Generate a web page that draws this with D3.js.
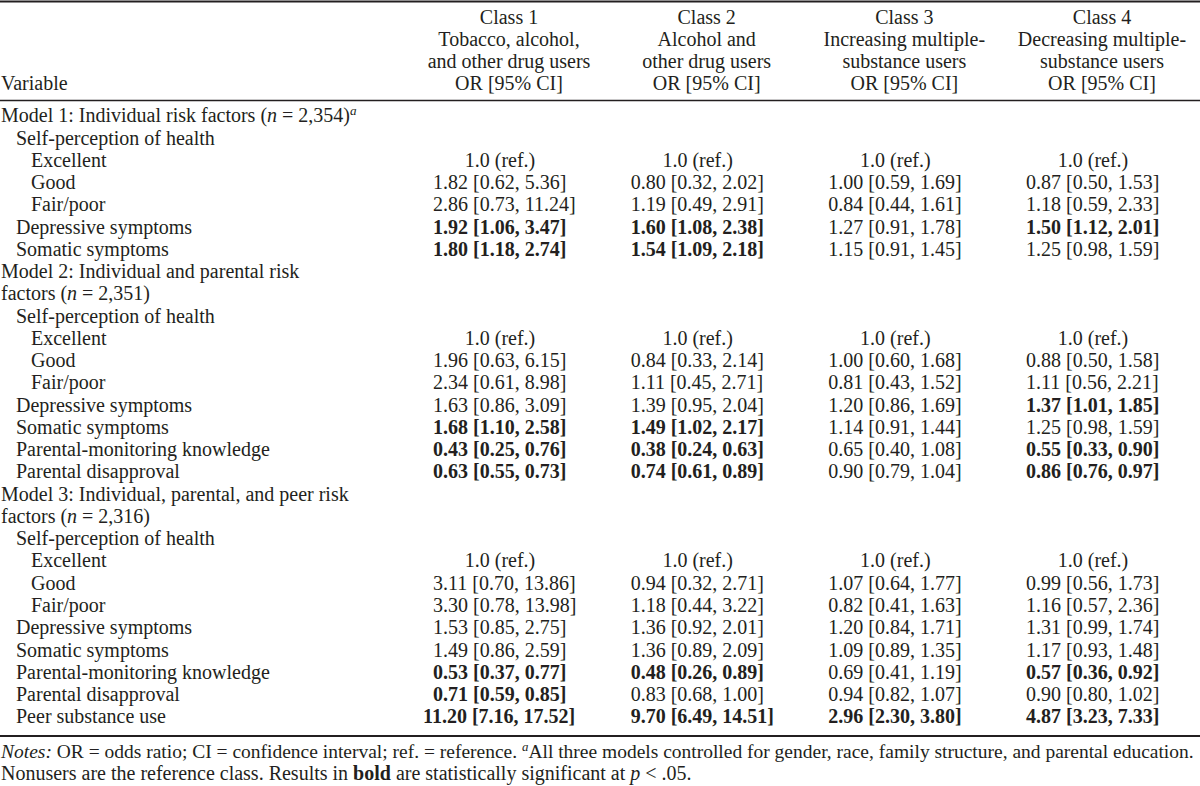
<!DOCTYPE html>
<html>
<head>
<meta charset="utf-8">
<script src="https://cdn.jsdelivr.net/npm/d3@7"></script>
<style>
  html, body { margin: 0; padding: 0; background: #fff; }
  svg { display: block; }
  text { font-family: "Liberation Serif", "Times New Roman", serif; fill: #231f20; }
</style>
</head>
<body>
<svg id="chart" width="1200" height="786"></svg>
<script>
// ---------- DATA ----------
const classNames = ["Class 1", "Class 2", "Class 3", "Class 4"];
const classDesc = [
  ["Tobacco, alcohol,", "and other drug users"],
  ["Alcohol and", "other drug users"],
  ["Increasing multiple-", "substance users"],
  ["Decreasing multiple-", "substance users"]
];
const statLabel = "OR [95% CI]";
const varHeader = "Variable";

// row labels: [text parts, indent]; parts: [string, style]
const rowLabels = [
  [[["Model 1: Individual risk factors (", ""], ["n", "i"], [" = 2,354)", ""], ["a", "sup"]], 0],
  [[["Self-perception of health", ""]], 1],
  [[["Excellent", ""]], 2],
  [[["Good", ""]], 2],
  [[["Fair/poor", ""]], 2],
  [[["Depressive symptoms", ""]], 1],
  [[["Somatic symptoms", ""]], 1],
  [[["Model 2: Individual and parental risk", ""]], 0],
  [[["factors (", ""], ["n", "i"], [" = 2,351)", ""]], 0],
  [[["Self-perception of health", ""]], 1],
  [[["Excellent", ""]], 2],
  [[["Good", ""]], 2],
  [[["Fair/poor", ""]], 2],
  [[["Depressive symptoms", ""]], 1],
  [[["Somatic symptoms", ""]], 1],
  [[["Parental-monitoring knowledge", ""]], 1],
  [[["Parental disapproval", ""]], 1],
  [[["Model 3: Individual, parental, and peer risk", ""]], 0],
  [[["factors (", ""], ["n", "i"], [" = 2,316)", ""]], 0],
  [[["Self-perception of health", ""]], 1],
  [[["Excellent", ""]], 2],
  [[["Good", ""]], 2],
  [[["Fair/poor", ""]], 2],
  [[["Depressive symptoms", ""]], 1],
  [[["Somatic symptoms", ""]], 1],
  [[["Parental-monitoring knowledge", ""]], 1],
  [[["Parental disapproval", ""]], 1],
  [[["Peer substance use", ""]], 1]
];

// values per class, indexed by row; null = no value, "ref" = reference
// [OR, lower, upper, significant]
const class1 = [null, null, "ref",
  [1.82, 0.62, 5.36, 0], [2.86, 0.73, 11.24, 0], [1.92, 1.06, 3.47, 1], [1.80, 1.18, 2.74, 1],
  null, null, null, "ref",
  [1.96, 0.63, 6.15, 0], [2.34, 0.61, 8.98, 0], [1.63, 0.86, 3.09, 0], [1.68, 1.10, 2.58, 1],
  [0.43, 0.25, 0.76, 1], [0.63, 0.55, 0.73, 1],
  null, null, null, "ref",
  [3.11, 0.70, 13.86, 0], [3.30, 0.78, 13.98, 0], [1.53, 0.85, 2.75, 0], [1.49, 0.86, 2.59, 0],
  [0.53, 0.37, 0.77, 1], [0.71, 0.59, 0.85, 1], [11.20, 7.16, 17.52, 1]];
const class2 = [null, null, "ref",
  [0.80, 0.32, 2.02, 0], [1.19, 0.49, 2.91, 0], [1.60, 1.08, 2.38, 1], [1.54, 1.09, 2.18, 1],
  null, null, null, "ref",
  [0.84, 0.33, 2.14, 0], [1.11, 0.45, 2.71, 0], [1.39, 0.95, 2.04, 0], [1.49, 1.02, 2.17, 1],
  [0.38, 0.24, 0.63, 1], [0.74, 0.61, 0.89, 1],
  null, null, null, "ref",
  [0.94, 0.32, 2.71, 0], [1.18, 0.44, 3.22, 0], [1.36, 0.92, 2.01, 0], [1.36, 0.89, 2.09, 0],
  [0.48, 0.26, 0.89, 1], [0.83, 0.68, 1.00, 0], [9.70, 6.49, 14.51, 1]];
const class3 = [null, null, "ref",
  [1.00, 0.59, 1.69, 0], [0.84, 0.44, 1.61, 0], [1.27, 0.91, 1.78, 0], [1.15, 0.91, 1.45, 0],
  null, null, null, "ref",
  [1.00, 0.60, 1.68, 0], [0.81, 0.43, 1.52, 0], [1.20, 0.86, 1.69, 0], [1.14, 0.91, 1.44, 0],
  [0.65, 0.40, 1.08, 0], [0.90, 0.79, 1.04, 0],
  null, null, null, "ref",
  [1.07, 0.64, 1.77, 0], [0.82, 0.41, 1.63, 0], [1.20, 0.84, 1.71, 0], [1.09, 0.89, 1.35, 0],
  [0.69, 0.41, 1.19, 0], [0.94, 0.82, 1.07, 0], [2.96, 2.30, 3.80, 1]];
const class4 = [null, null, "ref",
  [0.87, 0.50, 1.53, 0], [1.18, 0.59, 2.33, 0], [1.50, 1.12, 2.01, 1], [1.25, 0.98, 1.59, 0],
  null, null, null, "ref",
  [0.88, 0.50, 1.58, 0], [1.11, 0.56, 2.21, 0], [1.37, 1.01, 1.85, 1], [1.25, 0.98, 1.59, 0],
  [0.55, 0.33, 0.90, 1], [0.86, 0.76, 0.97, 1],
  null, null, null, "ref",
  [0.99, 0.56, 1.73, 0], [1.16, 0.57, 2.36, 0], [1.31, 0.99, 1.74, 0], [1.17, 0.93, 1.48, 0],
  [0.57, 0.36, 0.92, 1], [0.90, 0.80, 1.02, 0], [4.87, 3.23, 7.33, 1]];
const classValues = [class1, class2, class3, class4];

const noteLine1 = [["Notes:", "i"], [" OR = odds ratio; CI = confidence interval; ref. = reference. ", ""], ["a", "sup"],
  ["All three models controlled for gender, race, family structure, and parental education.", ""]];
const noteLine2 = [["Nonusers are the reference class. Results in ", ""], ["bold", "b"],
  [" are statistically significant at ", ""], ["p", "i"], [" < .05.", ""]];

// ---------- LAYOUT ----------
const W = 1200, H = 786;
const FS = 20;
const svg = d3.select("#chart");

const y = d3.scaleLinear().domain([0, rowLabels.length - 1]).range([122.3, 723.3]);
const colLeft = d3.scaleLinear().domain([0, 3]).range([433, 1026]);
const headerCenter = i => colLeft(i) + 76;
const refCenter = i => colLeft(i) + 67;
const indentX = d3.scaleOrdinal().domain([0, 1, 2]).range([1, 16, 31]);
const fmt = d3.format(".2f");

function rich(sel, parts, fs) {
  let pendingDy = 0;
  parts.forEach(([t, s]) => {
    const ts = sel.append("tspan").text(t);
    if (pendingDy) { ts.attr("dy", pendingDy); pendingDy = 0; }
    if (s === "i") ts.attr("font-style", "italic");
    if (s === "b") ts.attr("font-weight", "bold");
    if (s === "sup") {
      ts.attr("class", "sup").attr("font-size", fs * 0.66).attr("dy", -7).attr("font-style", "italic");
      pendingDy = 7;
    }
  });
}

// rules
const rules = [
  {y: 1.5, w: 2},
  {y: 100.5, w: 1.3},
  {y: 736, w: 2}
];
svg.selectAll("line.rule").data(rules).join("line")
  .attr("class", "rule")
  .attr("x1", 0).attr("x2", W)
  .attr("y1", d => d.y).attr("y2", d => d.y)
  .attr("stroke", "#231f20").attr("stroke-width", d => d.w);

// header
const headerY = d3.scaleLinear().domain([0, 3]).range([23.5, 90.2]);
svg.append("text").attr("x", 1).attr("y", headerY(3)).attr("font-size", FS).text(varHeader);
classNames.forEach((c, i) => {
  const lines = [c, ...classDesc[i], statLabel];
  svg.append("g").selectAll("text").data(lines).join("text")
    .attr("x", headerCenter(i)).attr("y", (d, k) => headerY(k))
    .attr("text-anchor", "middle").attr("font-size", FS).text(d => d);
});

// row labels
svg.append("g").selectAll("text").data(rowLabels).join("text")
  .attr("x", d => indentX(d[1])).attr("y", (d, i) => y(i))
  .attr("font-size", FS)
  .each(function (d) { rich(d3.select(this), d[0], FS); });

// values
classValues.forEach((vals, ci) => {
  const g = svg.append("g");
  vals.forEach((v, ri) => {
    if (v === null) return;
    if (v === "ref") {
      g.append("text").attr("x", refCenter(ci)).attr("y", y(ri))
        .attr("text-anchor", "middle").attr("font-size", FS).text("1.0 (ref.)");
      return;
    }
    const [or, lo, hi, sig] = v;
    const s = fmt(or);
    const intDigits = s.split(".")[0].length;
    g.append("text")
      .attr("x", colLeft(ci) - (intDigits - 1) * FS * 0.5)
      .attr("y", y(ri))
      .attr("font-size", FS)
      .attr("font-weight", sig ? "bold" : "normal")
      .text(`${s} [${fmt(lo)}, ${fmt(hi)}]`);
  });
});

// notes: shrink first line's font so it fits the width naturally
const n1 = svg.append("text").attr("x", 1).attr("y", 758).attr("font-size", FS);
rich(n1, noteLine1, FS);
const len1 = n1.node().getComputedTextLength();
const maxW = 1193;
if (len1 > maxW) {
  const fs1 = FS * maxW / len1;
  n1.attr("font-size", fs1);
  n1.selectAll("tspan.sup").attr("font-size", fs1 * 0.66);
}
const n2 = svg.append("text").attr("x", 1).attr("y", 780).attr("font-size", FS);
rich(n2, noteLine2, FS);
</script>
</body>
</html>
